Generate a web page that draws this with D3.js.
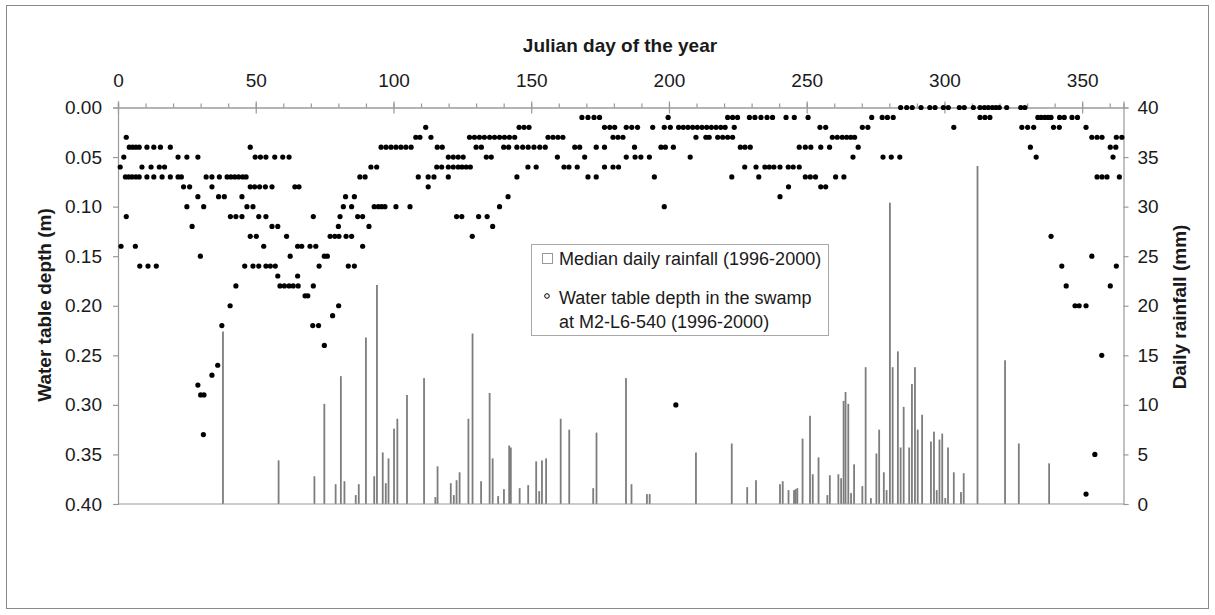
<!DOCTYPE html>
<html><head><meta charset="utf-8">
<script src="https://cdn.jsdelivr.net/npm/d3@7"></script>
<style>
html,body{margin:0;padding:0;background:#fff;}
svg{display:block;font-family:"Liberation Sans",Arial,sans-serif;}
</style></head>
<body>
<svg id="chart" width="1215" height="615"></svg>
<script>
// ---------- DATA ----------
const dayTicks = [0, 50, 100, 150, 200, 250, 300, 350];
const depthTicks = [0, 0.05, 0.10, 0.15, 0.20, 0.25, 0.30, 0.35, 0.40];
const rainTicks = [0, 5, 10, 15, 20, 25, 30, 35, 40];

// water table depth observations (julian days), one array per depth level (m)
const wt000 = [284.1,286.3,288.3,291.5,294.7,296.6,299.6,301.4,305.4,307.2,310.5,312.9,314.5,315.9,317.4,318.7,319.9,322.6,327.7,329.2];
const wt001 = [168.4,170.6,172.8,174.8,199.7,221.3,223.1,224.9,229.2,231.2,233.4,235.6,237.6,242.5,245.5,250.5,273.6,277.4,279.3,281.4,312.9,314.7,316.5,333.9,335.1,336.4,337.6,338.7,341.8,343.5,346.3,348.3];
const wt002 = [111.7,145.6,147.4,149.2,176.6,178.5,180.3,184.5,186.5,188.6,194.1,198.3,200.5,203.5,205.2,206.9,208.6,210.3,212,213.7,215.4,217.1,218.8,220.4,223.7,254.8,256.9,270.2,272.2,303.4,328.1,330.2,332.4,339.6,341.7,351.4];
const wt003 = [3.0,108.1,109.6,113.6,127.6,129.4,131.2,133,134.9,136.7,138.5,140.3,142.1,144,156.1,157.9,159.7,161.5,179.7,181.5,183.3,209.8,213.4,214.6,217.7,219.5,221.3,223.1,259.3,261.1,262.9,264.5,266,267.4,353.5,355.4,357.2,362.4,364.4];
const wt004 = [4.1,5.3,6.5,7.7,10.5,13,15.4,19,48,95.5,97.3,99.1,100.9,102.7,104.5,106.4,115.9,117.7,130,131.9,140,141.8,144.8,146.9,148.9,151,153.1,155.1,165.8,167.6,173.6,176.6,187.5,197.1,198.7,201.6,225.9,227.6,229.5,247.3,249.5,251.5,255.1,258.3,268.7,331.2,360.2,362.2];
const wt005 = [2.1,21.8,25,29,49.8,51.7,53.7,56.9,59.8,62.1,119.9,121.7,123.5,125.3,133.7,135.5,159.5,169.4,184.5,187.7,189.8,192.9,207.7,266.8,277.7,280.7,283.8,333.3,361.2];
const wt006 = [0.8,8.7,12,15,16.9,91.8,93.9,115.7,117.5,119.9,121.7,123.5,124.9,126.4,127.9,148.8,151.8,161.9,163.7,166.7,176.6,179.7,181.7,227.5,231.6,234.8,236.4,238.1,240.3,243.3,245.1,247.3];
const wt007 = [2.7,3.9,5.1,6.5,7.7,10.5,13,16,19,21.8,23,32,34.1,36.8,39.6,41,42.4,43.8,45.3,46.5,87.8,89.7,109,112.6,114.7,119.9,144.8,170.6,173.6,194.7,222.8,232.6,249.5,251.3,253.2,260.5,263.5,355.4,357.2,359,363.5];
const wt008 = [23.8,26,34.1,48,49.6,51.4,53.5,55.9,64.2,65.7,112.6,243.4,255.1,256.9];
const wt009 = [29,36.5,38.6,45,82.6,85.8,141.6,240.3];
const wt010 = [25,31.1,46.8,49,81.8,84.8,93,94.5,95.7,96.9,100.9,106,138.5,198.3];
const wt011 = [3,40.8,42.8,45,51.1,53.7,70.9,80.6,87,88.8,122.9,124.8,130.9,134];
const wt012 = [26.9,55.9,58,80,91.1,136];
const wt013 = [48,50.2,61.2,77,78.7,80.2,82.8,84.8,128.6,338.7];
const wt014 = [1.1,6.3,52.9,65.2,66.7,69.7,71.8,88.8];
const wt015 = [29.9,62.5,74.9,76,353.5];
const wt016 = [7.9,10.9,13.9,46,49,51.1,53.7,55.3,57.1,73,83.6,85.8,342.6,362.4];
const wt017 = [58,65.2];
const wt018 = [42.8,58.8,60.4,62.1,63.6,65.4,70.9,344.2,360.2];
const wt019 = [67.9,68.9];
// deeper isolated observations [julian day, depth m]
const wtDeep = [[40.7,0.20],[80.1,0.20],[347.4,0.20],[348.9,0.20],[351.4,0.20],[77.9,0.21],[37.7,0.22],[70.7,0.22],[72.8,0.22],[74.9,0.24],[357.1,0.25],[36.2,0.26],[34.1,0.27],[29,0.28],[30,0.29],[31.2,0.29],[202.5,0.30],[31,0.33],[354.6,0.35],[351.4,0.39]];

// median daily rainfall: julian day and mm
const rainDays = [38.1,58.3,71.3,74.9,79,80.9,82.2,86.3,87.4,90,93,94,96.1,97.2,98.2,100.2,101.4,104.9,111.1,115.2,116,120.8,121.9,122.9,124,127.2,128.7,131.8,134.9,136,138,140.1,142,142.6,145.8,148.9,151.8,152.9,153.9,155.4,160.7,163.8,172.5,173.7,184.4,186.4,192,193,209.8,222.8,228.4,231.6,240.3,241.3,243.4,245.4,246,246.6,248.5,251.2,252.2,254.3,257.5,258.4,261.5,262.5,263.4,264.1,265.1,266.1,267.2,270.2,271.4,273.3,275.3,276.3,278,279,280.2,281.2,283.1,284.1,285.2,287.2,288.2,289.3,290.3,291.9,295.1,296.2,297.2,298.2,299.2,300.3,301.3,303.4,306,307,312,322,327,338];
const rainMm = [17.4,4.4,2.8,10.1,2.0,12.9,2.3,0.9,2.0,16.8,2.8,22.1,5.2,2.1,4.6,7.6,8.6,11.0,12.7,0.7,3.8,2.1,0.9,2.4,3.2,8.6,17.2,2.3,11.2,4.6,0.8,1.5,5.9,5.7,1.6,1.9,4.3,1.3,4.4,4.6,8.6,7.5,1.6,7.2,12.7,2.0,1.0,1.0,5.2,6.1,1.7,2.4,2.0,2.3,1.4,1.4,1.5,1.6,6.6,8.9,3.0,4.7,0.9,2.9,3.0,2.6,10.4,11.3,10.1,1.1,4.0,1.8,13.8,0.6,5.1,7.5,3.2,1.4,30.4,13.8,15.4,5.7,9.8,5.7,12.1,13.8,7.5,9.0,6.3,7.3,1.4,6.5,7.1,0.6,5.7,3.2,1.2,3.1,34.1,14.5,6.1,4.1];

const levels = [wt000,wt001,wt002,wt003,wt004,wt005,wt006,wt007,wt008,wt009,wt010,wt011,wt012,wt013,wt014,wt015,wt016,wt017,wt018,wt019];
const waterTable = [];
levels.forEach((arr, i) => arr.forEach(d => waterTable.push([d, i / 100])));
wtDeep.forEach(p => waterTable.push(p));
const rainfall = rainDays.map((d, i) => [d, rainMm[i]]);

// ---------- CHART ----------
const svg = d3.select("#chart");
const W = 1215, H = 615;
const L = 118, R = 1123.5, T = 107.5, B = 504;
const axisCol = "#999", textCol = "#1a1a1a";

svg.append("rect").attr("width", W).attr("height", H).attr("fill", "#fff");
svg.append("rect").attr("x", 6.5).attr("y", 5.5).attr("width", 1202).attr("height", 603)
  .attr("fill", "none").attr("stroke", "#8a8a8a").attr("stroke-width", 1);

const x = d3.scaleLinear().domain([0, 365]).range([L, R]);
const yD = d3.scaleLinear().domain([0, 0.4]).range([T, B]);
const yR = d3.scaleLinear().domain([0, 40]).range([B, T]);

// rainfall bars
svg.append("g").selectAll("rect").data(rainfall).join("rect")
  .attr("x", d => x(d[0]) - 0.9)
  .attr("width", 1.8)
  .attr("y", d => yR(d[1]))
  .attr("height", d => yR(0) - yR(d[1]))
  .attr("fill", "#7d7d7d");

// bottom frame line
svg.append("line").attr("x1", L).attr("x2", R).attr("y1", B).attr("y2", B)
  .attr("stroke", axisCol).attr("stroke-width", 1.2);

function styleAxis(g) {
  g.select(".domain").attr("stroke", axisCol).attr("stroke-width", 1.2);
  g.selectAll(".tick line").attr("stroke", axisCol).attr("stroke-width", 1.2);
  g.selectAll(".tick text").attr("fill", textCol).attr("font-size", 19)
    .attr("font-family", '"Liberation Sans",Arial,sans-serif');
}

// top axis: minor ticks
svg.append("g").attr("transform", `translate(0,${T})`)
  .call(d3.axisTop(x).tickValues(d3.range(0, 366, 10)).tickSize(4).tickFormat(""))
  .call(styleAxis);
// top axis: major ticks + labels
const topAx = svg.append("g").attr("transform", `translate(0,${T})`)
  .call(d3.axisTop(x).tickValues(dayTicks).tickSize(6).tickPadding(15).tickFormat(d3.format("d")))
  .call(styleAxis);
topAx.selectAll(".tick line").attr("y2", -6).attr("y1", 6);

// left axis
svg.append("g").attr("transform", `translate(${L},0)`)
  .call(d3.axisLeft(yD).tickValues(depthTicks).tickSize(5).tickPadding(11).tickFormat(d3.format(".2f")))
  .call(styleAxis);

// right axis
svg.append("g").attr("transform", `translate(${R},0)`)
  .call(d3.axisRight(yR).tickValues(rainTicks).tickSize(5).tickPadding(9).tickFormat(d3.format("d")))
  .call(styleAxis);

// water table dots
svg.append("g").selectAll("circle").data(waterTable).join("circle")
  .attr("cx", d => x(d[0])).attr("cy", d => yD(d[1]))
  .attr("r", 2.6).attr("fill", "#000");

// titles
svg.append("text").attr("x", 620).attr("y", 52).attr("text-anchor", "middle")
  .attr("font-size", 19).attr("font-weight", "bold").attr("fill", textCol)
  .text("Julian day of the year");
svg.append("text").attr("transform", "translate(51,305) rotate(-90)").attr("text-anchor", "middle")
  .attr("font-size", 19).attr("font-weight", "bold").attr("fill", textCol)
  .text("Water table depth  (m)");
svg.append("text").attr("transform", "translate(1186,307) rotate(-90)").attr("text-anchor", "middle")
  .attr("font-size", 19).attr("font-weight", "bold").attr("fill", textCol)
  .text("Daily rainfall (mm)");

// legend
const lg = svg.append("g");
lg.append("rect").attr("x", 531.5).attr("y", 244.5).attr("width", 297).attr("height", 91)
  .attr("fill", "#fff").attr("stroke", "#a8a8a8");
lg.append("rect").attr("x", 542.5).attr("y", 253.5).attr("width", 10).attr("height", 10)
  .attr("fill", "#fff").attr("stroke", "#999");
lg.append("text").attr("x", 559).attr("y", 265).attr("font-size", 18).attr("fill", textCol)
  .text("Median daily rainfall (1996-2000)");
lg.append("circle").attr("cx", 547).attr("cy", 296).attr("r", 2.3)
  .attr("fill", "#fff").attr("stroke", "#000").attr("stroke-width", 1);
lg.append("text").attr("x", 559).attr("y", 304).attr("font-size", 18).attr("fill", textCol)
  .text("Water table depth in the swamp");
lg.append("text").attr("x", 559).attr("y", 328).attr("font-size", 18).attr("fill", textCol)
  .text("at M2-L6-540 (1996-2000)");
</script>
</body></html>
